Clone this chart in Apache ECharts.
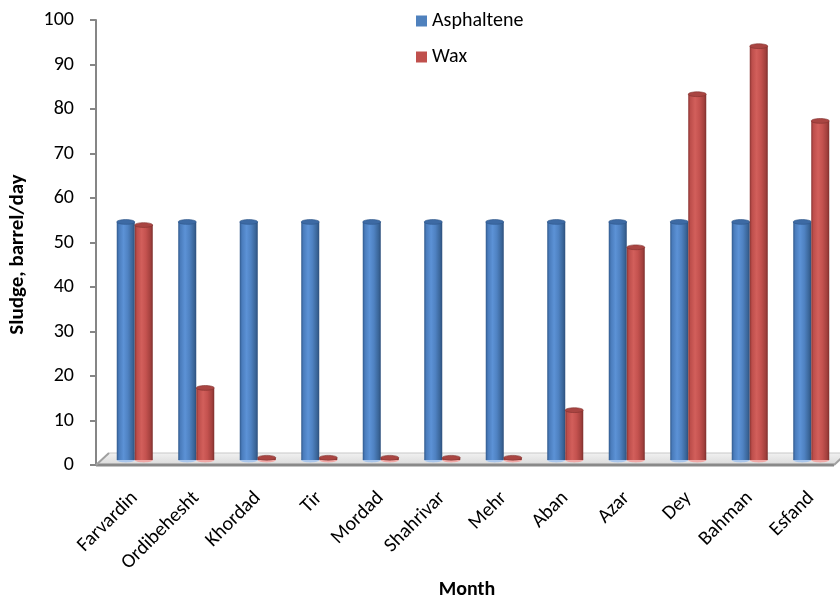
<!DOCTYPE html>
<html>
<head>
<meta charset="utf-8">
<script src="https://cdn.jsdelivr.net/npm/echarts@6/dist/echarts.min.js"></script>
<style>
  html, body { margin: 0; padding: 0; background: #fff; }
  #chart { width: 840px; height: 599px; }
</style>
</head>
<body>
<div id="chart"></div>
<script>
// Monthly sludge production (barrel/day), Persian calendar months
const months = ['Farvardin', 'Ordibehesht', 'Khordad', 'Tir', 'Mordad', 'Shahrivar',
                'Mehr', 'Aban', 'Azar', 'Dey', 'Bahman', 'Esfand'];
const asphaltene = [53.5, 53.5, 53.5, 53.5, 53.5, 53.5, 53.5, 53.5, 53.5, 53.5, 53.5, 53.5];
const wax = [52.8, 16.2, 0.5, 0.5, 0.5, 0.5, 0.5, 11.2, 47.8, 82.2, 93.0, 76.2];
const yTicks = { min: 0, max: 100, interval: 10 };

const FONT = 'Carlito, Lato, "Liberation Sans", sans-serif';
const GRID = { left: 104, right: -2, top: 20, bottom: 134 };
const BAR_W = 18;     // width of one cylinder
const DEPTH = 5;      // bars stand a little behind the front edge of the floor

const palettes = [
  { // blue cylinders
    stops: ['#30598c', '#4a7cbc', '#5c92d6', '#4f82c2', '#3a6598', '#2d4f7c'],
    top: '#3d6aa4', topEdge: '#2e5688', base: '#a9c6ec'
  },
  { // red cylinders
    stops: ['#8a3432', '#bd4e4b', '#d25f5b', '#c4524f', '#a2403d', '#7d2f2d'],
    top: '#a94542', topEdge: '#7f302e', base: '#f0a8a6'
  }
];

function cylinder(seriesIdx) {
  const pal = palettes[seriesIdx];
  return function (params, api) {
    const cat = api.value(0);
    const val = api.value(1);
    const topPt = api.coord([cat, val]);
    const basePt = api.coord([cat, 0]);
    const x0 = topPt[0] + (seriesIdx === 0 ? -BAR_W : 0);
    const yTop = topPt[1] - DEPTH;
    const yBase = basePt[1] - DEPTH;
    const rx = BAR_W / 2;
    const ry = 2.4;
    const grad = new echarts.graphic.LinearGradient(0, 0, 1, 0, [
      { offset: 0, color: pal.stops[0] },
      { offset: 0.12, color: pal.stops[1] },
      { offset: 0.38, color: pal.stops[2] },
      { offset: 0.62, color: pal.stops[3] },
      { offset: 0.88, color: pal.stops[4] },
      { offset: 1, color: pal.stops[5] }
    ]);
    return {
      type: 'group',
      children: [
        { type: 'ellipse', shape: { cx: x0 + rx, cy: yBase, rx: rx, ry: ry },
          style: { fill: pal.base } },
        { type: 'rect', shape: { x: x0, y: yTop, width: BAR_W, height: Math.max(yBase - yTop, 0) },
          style: { fill: grad } },
        { type: 'ellipse', shape: { cx: x0 + rx, cy: yTop, rx: rx, ry: ry },
          style: { fill: pal.top, stroke: pal.topEdge, lineWidth: 0.6 } }
      ]
    };
  };
}

const chart = echarts.init(document.getElementById('chart'), null, { renderer: 'canvas' });

chart.setOption({
  animation: false,
  backgroundColor: '#ffffff',
  textStyle: { fontFamily: FONT },
  grid: Object.assign({ outerBoundsMode: 'none', containLabel: false }, GRID),
  legend: {
    orient: 'vertical',
    left: 411,
    top: 5,
    itemWidth: 11,
    itemHeight: 11,
    itemGap: 14,
    itemStyle: { borderWidth: 0 },
    icon: 'rect',
    textStyle: { fontSize: 20, color: '#000', fontFamily: FONT, lineHeight: 22 },
    data: [
      { name: 'Asphaltene', itemStyle: { color: '#4f81bd' } },
      { name: 'Wax', itemStyle: { color: '#c0504d' } }
    ]
  },
  xAxis: {
    type: 'category',
    data: months,
    boundaryGap: true,
    name: 'Month',
    nameLocation: 'middle',
    nameGap: 108,
    nameTextStyle: { fontSize: 20, fontWeight: 'bold', color: '#000', fontFamily: FONT, padding: [0, 12, 0, 0] },
    axisLine: { show: false },
    axisTick: { show: false },
    axisLabel: { rotate: 45, fontSize: 20, color: '#000', margin: 30, fontFamily: FONT, interval: 0 },
    splitLine: { show: false }
  },
  yAxis: {
    type: 'value',
    min: yTicks.min,
    max: yTicks.max,
    interval: yTicks.interval,
    offset: 8,
    name: 'Sludge, barrel/day',
    nameLocation: 'middle',
    nameGap: 68,
    nameTextStyle: { fontSize: 21, fontWeight: 'bold', color: '#000', fontFamily: FONT, padding: [0, 24, 0, 0] },
    axisLine: { show: true, lineStyle: { color: '#868686', width: 2 } },
    axisTick: { show: true, length: 6, lineStyle: { color: '#868686', width: 2 } },
    axisLabel: { fontSize: 20, color: '#000', margin: 22, fontFamily: FONT },
    splitLine: { show: false }
  },
  series: [
    {
      name: 'Asphaltene',
      type: 'custom',
      renderItem: cylinder(0),
      itemStyle: { color: '#4f81bd' },
      encode: { x: 0, y: 1 },
      data: asphaltene.map((v, i) => [i, v]),
      z: 3
    },
    {
      name: 'Wax',
      type: 'custom',
      renderItem: cylinder(1),
      itemStyle: { color: '#c0504d' },
      encode: { x: 0, y: 1 },
      data: wax.map((v, i) => [i, v]),
      z: 3
    }
  ]
});

// Floor plane under the cylinders, placed from the axes' own pixel mapping
(function drawFloor() {
  const zeroY = chart.convertToPixel({ yAxisIndex: 0 }, 0);
  const width = chart.getWidth();
  const frontL = GRID.left - 8;
  const frontR = width - 6;
  const lift = 12;
  const shift = 13;
  chart.setOption({
    graphic: [
      {
        type: 'polygon',
        z: 1,
        shape: { points: [[frontL, zeroY], [frontR, zeroY], [frontR + shift, zeroY - lift],
                          [frontL + shift, zeroY - lift]] },
        style: {
          fill: new echarts.graphic.LinearGradient(0, 0, 0, 1, [
            { offset: 0, color: '#f2f2f2' }, { offset: 1, color: '#d9d9d9' }
          ]),
          stroke: '#c8c8c8', lineWidth: 1
        }
      },
      {
        type: 'line',
        z: 2,
        shape: { x1: frontL, y1: zeroY, x2: frontR, y2: zeroY },
        style: { stroke: '#898989', lineWidth: 3 }
      },
      {
        type: 'line',
        z: 2,
        shape: { x1: frontR, y1: zeroY, x2: frontR + shift, y2: zeroY - lift },
        style: { stroke: '#a0a0a0', lineWidth: 2 }
      },
      {
        type: 'line',
        z: 2,
        shape: { x1: frontL, y1: zeroY, x2: frontL + shift, y2: zeroY - lift },
        style: { stroke: '#a0a0a0', lineWidth: 2 }
      }
    ]
  });
})();
</script>
</body>
</html>
